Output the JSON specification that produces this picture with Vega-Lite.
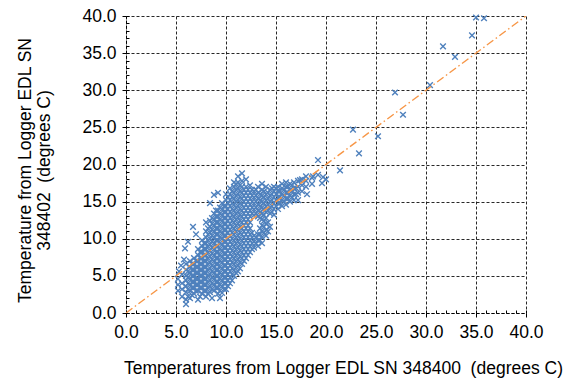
{
"$schema": "https://vega.github.io/schema/vega-lite/v6.json",
"autosize": {"type": "none"},
"width": 400, "height": 297,
"padding": {"left": 126, "top": 16, "right": 48, "bottom": 69},
"background": "white",
"datasets": {
"diag": [{"x": 0, "y": 0}, {"x": 40, "y": 40}],
"pts": [
{"x":35.0,"y":39.8},{"x":35.8,"y":39.7},{"x":34.6,"y":37.4},{"x":31.7,"y":35.9},{"x":32.9,"y":34.5},{"x":30.4,"y":30.7},{"x":26.9,"y":29.7},{"x":27.7,"y":26.7},{"x":22.7,"y":24.7},{"x":25.2,"y":23.8},{"x":23.3,"y":21.5},{"x":19.2,"y":20.6},{"x":21.4,"y":19.2},
{"x":18.1,"y":16.0},{"x":19.6,"y":17.5},{"x":19.7,"y":18.3},{"x":19.2,"y":18.6},{"x":18.7,"y":18.4},{"x":17.4,"y":17.9},{"x":20.0,"y":18.0},
{"x":5.2,"y":3.0},{"x":5.2,"y":3.8},{"x":5.2,"y":4.6},{"x":5.3,"y":5.6},{"x":5.5,"y":6.4},
{"x":5.6,"y":2.2},{"x":5.6,"y":3.2},{"x":5.6,"y":4.0},{"x":5.6,"y":5.2},{"x":5.8,"y":7.2},{"x":5.9,"y":8.7},
{"x":6.0,"y":1.2},{"x":6.0,"y":1.8},{"x":6.0,"y":2.8},{"x":6.0,"y":3.6},{"x":6.0,"y":4.4},{"x":6.0,"y":5.0},{"x":6.0,"y":5.8},{"x":6.0,"y":6.6},
{"x":6.2,"y":9.6},{"x":6.2,"y":2.2},{"x":6.2,"y":3.2},{"x":6.2,"y":4.0},{"x":6.2,"y":4.8},{"x":6.2,"y":5.6},
{"x":6.4,"y":2.0},{"x":6.4,"y":3.0},{"x":6.4,"y":3.8},{"x":6.4,"y":4.6},{"x":6.4,"y":5.4},{"x":6.4,"y":6.2},{"x":6.4,"y":7.0},
{"x":6.6,"y":2.4},{"x":6.6,"y":3.4},{"x":6.6,"y":4.2},{"x":6.6,"y":5.0},{"x":6.6,"y":5.8},{"x":6.6,"y":6.6},
{"x":6.7,"y":11.6},
{"x":6.8,"y":2.6},{"x":6.8,"y":3.4},{"x":6.8,"y":4.2},{"x":6.8,"y":5.0},{"x":6.8,"y":5.8},{"x":6.8,"y":6.6},{"x":6.8,"y":7.4},
{"x":7.0,"y":10.6},{"x":7.0,"y":3.0},{"x":7.0,"y":3.8},{"x":7.0,"y":4.6},{"x":7.0,"y":5.4},{"x":7.0,"y":6.2},{"x":7.0,"y":7.0},
{"x":7.2,"y":1.8},{"x":7.2,"y":3.0},{"x":7.2,"y":3.8},{"x":7.2,"y":4.6},{"x":7.2,"y":5.4},{"x":7.2,"y":6.2},{"x":7.2,"y":7.0},{"x":7.2,"y":7.8},{"x":7.2,"y":8.6},
{"x":7.4,"y":2.2},{"x":7.4,"y":3.4},{"x":7.4,"y":4.2},{"x":7.4,"y":5.0},{"x":7.4,"y":5.8},{"x":7.4,"y":6.6},{"x":7.4,"y":7.4},{"x":7.4,"y":8.2},
{"x":7.6,"y":2.6},{"x":7.6,"y":3.4},{"x":7.6,"y":4.2},{"x":7.6,"y":5.0},{"x":7.6,"y":5.8},{"x":7.6,"y":6.6},{"x":7.6,"y":7.4},{"x":7.6,"y":8.2},{"x":7.6,"y":9.0},{"x":7.6,"y":9.8},
{"x":7.8,"y":3.0},{"x":7.8,"y":3.8},{"x":7.8,"y":4.6},{"x":7.8,"y":5.4},{"x":7.8,"y":6.2},{"x":7.8,"y":7.0},{"x":7.8,"y":7.8},{"x":7.8,"y":8.6},{"x":7.8,"y":9.4},
{"x":8.0,"y":2.2},{"x":8.0,"y":3.0},{"x":8.0,"y":3.8},{"x":8.0,"y":4.6},{"x":8.0,"y":5.4},{"x":8.0,"y":6.2},{"x":8.0,"y":7.0},{"x":8.0,"y":7.8},{"x":8.0,"y":8.6},{"x":8.0,"y":9.4},{"x":8.0,"y":10.2},{"x":8.0,"y":11.0},{"x":8.0,"y":12.2},
{"x":8.2,"y":2.6},{"x":8.2,"y":3.4},{"x":8.2,"y":4.2},{"x":8.2,"y":5.0},{"x":8.2,"y":5.8},{"x":8.2,"y":6.6},{"x":8.2,"y":7.4},{"x":8.2,"y":8.2},{"x":8.2,"y":9.0},{"x":8.2,"y":9.8},{"x":8.2,"y":10.6},{"x":8.2,"y":11.4},
{"x":8.4,"y":2.8},{"x":8.4,"y":3.6},{"x":8.4,"y":4.4},{"x":8.4,"y":5.2},{"x":8.4,"y":6.0},{"x":8.4,"y":6.8},{"x":8.4,"y":7.6},{"x":8.4,"y":8.4},{"x":8.4,"y":9.2},{"x":8.4,"y":10.0},{"x":8.4,"y":10.8},{"x":8.4,"y":11.6},{"x":8.4,"y":12.4},{"x":8.4,"y":14.8},
{"x":8.6,"y":2.0},{"x":8.6,"y":3.2},{"x":8.6,"y":4.0},{"x":8.6,"y":4.8},{"x":8.6,"y":5.6},{"x":8.6,"y":6.4},{"x":8.6,"y":7.2},{"x":8.6,"y":8.0},{"x":8.6,"y":8.8},{"x":8.6,"y":9.6},{"x":8.6,"y":10.4},{"x":8.6,"y":11.2},{"x":8.6,"y":12.0},{"x":8.6,"y":12.8},
{"x":8.8,"y":3.0},{"x":8.8,"y":3.8},{"x":8.8,"y":4.6},{"x":8.8,"y":5.4},{"x":8.8,"y":6.2},{"x":8.8,"y":7.0},{"x":8.8,"y":7.8},{"x":8.8,"y":8.6},{"x":8.8,"y":9.4},{"x":8.8,"y":10.2},{"x":8.8,"y":11.0},{"x":8.8,"y":11.8},{"x":8.8,"y":12.6},{"x":8.8,"y":13.4},{"x":8.8,"y":15.9},
{"x":9.0,"y":3.4},{"x":9.0,"y":4.2},{"x":9.0,"y":5.0},{"x":9.0,"y":5.8},{"x":9.0,"y":6.6},{"x":9.0,"y":7.4},{"x":9.0,"y":8.2},{"x":9.0,"y":9.0},{"x":9.0,"y":9.8},{"x":9.0,"y":10.6},{"x":9.0,"y":11.4},{"x":9.0,"y":12.2},{"x":9.0,"y":13.0},{"x":9.0,"y":13.8},
{"x":9.2,"y":2.6},{"x":9.2,"y":3.4},{"x":9.2,"y":4.2},{"x":9.2,"y":5.0},{"x":9.2,"y":5.8},{"x":9.2,"y":6.6},{"x":9.2,"y":7.4},{"x":9.2,"y":8.2},{"x":9.2,"y":9.0},{"x":9.2,"y":9.8},{"x":9.2,"y":10.6},{"x":9.2,"y":11.4},{"x":9.2,"y":12.2},{"x":9.2,"y":13.0},{"x":9.2,"y":13.8},{"x":9.2,"y":16.2},
{"x":9.4,"y":2.0},{"x":9.4,"y":3.0},{"x":9.4,"y":3.8},{"x":9.4,"y":4.6},{"x":9.4,"y":5.4},{"x":9.4,"y":6.2},{"x":9.4,"y":7.0},{"x":9.4,"y":7.8},{"x":9.4,"y":8.6},{"x":9.4,"y":9.4},{"x":9.4,"y":10.2},{"x":9.4,"y":11.0},{"x":9.4,"y":11.8},{"x":9.4,"y":12.6},{"x":9.4,"y":13.4},{"x":9.4,"y":14.2},
{"x":9.6,"y":2.7},{"x":9.6,"y":3.6},{"x":9.6,"y":4.4},{"x":9.6,"y":5.2},{"x":9.6,"y":6.0},{"x":9.6,"y":6.8},{"x":9.6,"y":7.6},{"x":9.6,"y":8.4},{"x":9.6,"y":9.2},{"x":9.6,"y":10.0},{"x":9.6,"y":10.8},{"x":9.6,"y":11.6},{"x":9.6,"y":12.4},{"x":9.6,"y":13.2},{"x":9.6,"y":14.0},{"x":9.6,"y":14.8},
{"x":9.8,"y":3.2},{"x":9.8,"y":4.0},{"x":9.8,"y":4.8},{"x":9.8,"y":5.6},{"x":9.8,"y":6.4},{"x":9.8,"y":7.2},{"x":9.8,"y":8.0},{"x":9.8,"y":8.8},{"x":9.8,"y":9.6},{"x":9.8,"y":10.4},{"x":9.8,"y":11.2},{"x":9.8,"y":12.0},{"x":9.8,"y":12.8},{"x":9.8,"y":13.6},{"x":9.8,"y":14.4},
{"x":10.0,"y":3.2},{"x":10.0,"y":4.0},{"x":10.0,"y":4.8},{"x":10.0,"y":5.6},{"x":10.0,"y":6.4},{"x":10.0,"y":7.2},{"x":10.0,"y":8.0},{"x":10.0,"y":8.8},{"x":10.0,"y":9.6},{"x":10.0,"y":10.4},{"x":10.0,"y":11.2},{"x":10.0,"y":12.0},{"x":10.0,"y":12.8},{"x":10.0,"y":13.6},{"x":10.0,"y":14.4},{"x":10.0,"y":15.2},{"x":10.0,"y":16.0},
{"x":10.2,"y":3.6},{"x":10.2,"y":4.4},{"x":10.2,"y":5.2},{"x":10.2,"y":6.0},{"x":10.2,"y":6.8},{"x":10.2,"y":7.6},{"x":10.2,"y":8.4},{"x":10.2,"y":9.2},{"x":10.2,"y":10.0},{"x":10.2,"y":10.8},{"x":10.2,"y":11.6},{"x":10.2,"y":12.4},{"x":10.2,"y":13.2},{"x":10.2,"y":14.0},{"x":10.2,"y":14.8},{"x":10.2,"y":15.6},
{"x":10.4,"y":4.0},{"x":10.4,"y":4.8},{"x":10.4,"y":5.6},{"x":10.4,"y":6.4},{"x":10.4,"y":7.2},{"x":10.4,"y":8.0},{"x":10.4,"y":8.8},{"x":10.4,"y":9.6},{"x":10.4,"y":10.4},{"x":10.4,"y":11.2},{"x":10.4,"y":12.0},{"x":10.4,"y":12.8},{"x":10.4,"y":13.6},{"x":10.4,"y":14.4},{"x":10.4,"y":15.2},{"x":10.4,"y":16.0},{"x":10.4,"y":16.8},
{"x":10.6,"y":4.4},{"x":10.6,"y":5.2},{"x":10.6,"y":6.0},{"x":10.6,"y":6.8},{"x":10.6,"y":7.6},{"x":10.6,"y":8.4},{"x":10.6,"y":9.2},{"x":10.6,"y":10.0},{"x":10.6,"y":10.8},{"x":10.6,"y":11.6},{"x":10.6,"y":12.4},{"x":10.6,"y":13.2},{"x":10.6,"y":14.0},{"x":10.6,"y":14.8},{"x":10.6,"y":15.6},{"x":10.6,"y":16.4},
{"x":10.8,"y":5.0},{"x":10.8,"y":5.8},{"x":10.8,"y":6.6},{"x":10.8,"y":7.4},{"x":10.8,"y":8.2},{"x":10.8,"y":9.0},{"x":10.8,"y":9.8},{"x":10.8,"y":10.6},{"x":10.8,"y":11.4},{"x":10.8,"y":12.2},{"x":10.8,"y":13.0},{"x":10.8,"y":13.8},{"x":10.8,"y":14.6},{"x":10.8,"y":15.4},{"x":10.8,"y":16.2},{"x":10.8,"y":17.0},{"x":10.8,"y":17.6},
{"x":11.0,"y":5.4},{"x":11.0,"y":6.2},{"x":11.0,"y":7.0},{"x":11.0,"y":7.8},{"x":11.0,"y":8.6},{"x":11.0,"y":9.4},{"x":11.0,"y":10.2},{"x":11.0,"y":11.0},{"x":11.0,"y":11.8},{"x":11.0,"y":12.6},{"x":11.0,"y":13.4},{"x":11.0,"y":14.2},{"x":11.0,"y":15.0},{"x":11.0,"y":15.8},{"x":11.0,"y":16.6},{"x":11.0,"y":17.4},
{"x":11.2,"y":5.6},{"x":11.2,"y":6.4},{"x":11.2,"y":7.2},{"x":11.2,"y":8.0},{"x":11.2,"y":8.8},{"x":11.2,"y":9.6},{"x":11.2,"y":10.4},{"x":11.2,"y":11.2},{"x":11.2,"y":12.0},{"x":11.2,"y":12.8},{"x":11.2,"y":13.6},{"x":11.2,"y":14.4},{"x":11.2,"y":15.2},{"x":11.2,"y":16.0},{"x":11.2,"y":16.8},{"x":11.2,"y":17.6},{"x":11.2,"y":18.4},
{"x":11.4,"y":6.0},{"x":11.4,"y":6.8},{"x":11.4,"y":7.6},{"x":11.4,"y":8.4},{"x":11.4,"y":9.2},{"x":11.4,"y":10.0},{"x":11.4,"y":10.8},{"x":11.4,"y":11.6},{"x":11.4,"y":12.4},{"x":11.4,"y":13.2},{"x":11.4,"y":14.0},{"x":11.4,"y":14.8},{"x":11.4,"y":15.6},{"x":11.4,"y":16.4},{"x":11.4,"y":17.2},
{"x":11.6,"y":6.6},{"x":11.6,"y":7.4},{"x":11.6,"y":8.2},{"x":11.6,"y":9.0},{"x":11.6,"y":9.8},{"x":11.6,"y":10.6},{"x":11.6,"y":11.4},{"x":11.6,"y":12.2},{"x":11.6,"y":13.0},{"x":11.6,"y":13.8},{"x":11.6,"y":14.6},{"x":11.6,"y":15.4},{"x":11.6,"y":16.2},{"x":11.6,"y":17.0},{"x":11.6,"y":17.8},{"x":11.6,"y":18.8},
{"x":11.8,"y":7.0},{"x":11.8,"y":7.8},{"x":11.8,"y":8.6},{"x":11.8,"y":9.4},{"x":11.8,"y":10.2},{"x":11.8,"y":11.0},{"x":11.8,"y":11.8},{"x":11.8,"y":12.6},{"x":11.8,"y":13.4},{"x":11.8,"y":14.2},{"x":11.8,"y":15.0},{"x":11.8,"y":15.8},{"x":11.8,"y":16.6},
{"x":12.0,"y":7.4},{"x":12.0,"y":8.2},{"x":12.0,"y":9.0},{"x":12.0,"y":9.8},{"x":12.0,"y":10.6},{"x":12.0,"y":11.4},{"x":12.0,"y":12.2},{"x":12.0,"y":13.0},{"x":12.0,"y":13.8},{"x":12.0,"y":14.6},{"x":12.0,"y":15.4},{"x":12.0,"y":16.2},{"x":12.0,"y":17.0},{"x":12.0,"y":18.0},
{"x":12.2,"y":7.8},{"x":12.2,"y":8.6},{"x":12.2,"y":9.4},{"x":12.2,"y":10.2},{"x":12.2,"y":11.0},{"x":12.2,"y":11.8},{"x":12.2,"y":12.6},{"x":12.2,"y":13.4},{"x":12.2,"y":14.2},{"x":12.2,"y":15.0},{"x":12.2,"y":15.8},{"x":12.2,"y":16.6},
{"x":12.4,"y":8.2},{"x":12.4,"y":9.0},{"x":12.4,"y":9.8},{"x":12.4,"y":10.6},{"x":12.4,"y":11.4},{"x":12.4,"y":12.2},{"x":12.4,"y":13.0},{"x":12.4,"y":13.8},{"x":12.4,"y":14.6},{"x":12.4,"y":15.4},{"x":12.4,"y":16.2},{"x":12.4,"y":17.2},
{"x":12.6,"y":8.6},{"x":12.6,"y":9.4},{"x":12.6,"y":10.2},{"x":12.6,"y":10.8},{"x":12.6,"y":13.4},{"x":12.6,"y":14.2},{"x":12.6,"y":15.0},{"x":12.6,"y":15.8},{"x":12.6,"y":16.6},
{"x":12.8,"y":8.8},{"x":12.8,"y":9.6},{"x":12.8,"y":10.4},{"x":12.8,"y":13.2},{"x":12.8,"y":14.0},{"x":12.8,"y":14.8},{"x":12.8,"y":15.6},{"x":12.8,"y":16.4},
{"x":13.0,"y":9.4},{"x":13.0,"y":10.2},{"x":13.0,"y":13.4},{"x":13.0,"y":14.2},{"x":13.0,"y":15.0},{"x":13.0,"y":15.8},{"x":13.0,"y":16.6},
{"x":13.2,"y":9.0},{"x":13.2,"y":9.8},{"x":13.2,"y":10.6},{"x":13.2,"y":13.0},{"x":13.2,"y":13.8},{"x":13.2,"y":14.6},{"x":13.2,"y":15.4},{"x":13.2,"y":16.2},{"x":13.2,"y":17.0},
{"x":13.4,"y":9.8},{"x":13.4,"y":10.6},{"x":13.4,"y":11.4},{"x":13.4,"y":12.8},{"x":13.4,"y":13.6},{"x":13.4,"y":14.4},{"x":13.4,"y":15.2},{"x":13.4,"y":16.0},
{"x":13.6,"y":9.4},{"x":13.6,"y":10.2},{"x":13.6,"y":11.0},{"x":13.6,"y":11.8},{"x":13.6,"y":12.6},{"x":13.6,"y":13.4},{"x":13.6,"y":14.2},{"x":13.6,"y":15.0},{"x":13.6,"y":15.8},{"x":13.6,"y":16.6},{"x":13.6,"y":17.4},
{"x":13.8,"y":10.8},{"x":13.8,"y":11.6},{"x":13.8,"y":12.4},{"x":13.8,"y":13.2},{"x":13.8,"y":14.0},{"x":13.8,"y":14.8},{"x":13.8,"y":15.6},{"x":13.8,"y":16.4},
{"x":14.0,"y":10.4},{"x":14.0,"y":11.2},{"x":14.0,"y":12.0},{"x":14.0,"y":12.8},{"x":14.0,"y":13.6},{"x":14.0,"y":14.4},{"x":14.0,"y":15.2},{"x":14.0,"y":16.0},{"x":14.0,"y":17.0},
{"x":14.2,"y":11.0},{"x":14.2,"y":12.2},{"x":14.2,"y":13.8},{"x":14.2,"y":14.6},{"x":14.2,"y":15.4},{"x":14.2,"y":16.2},
{"x":14.4,"y":11.6},{"x":14.4,"y":13.4},{"x":14.4,"y":14.2},{"x":14.4,"y":15.0},{"x":14.4,"y":15.8},{"x":14.4,"y":16.6},
{"x":14.6,"y":13.6},{"x":14.6,"y":14.4},{"x":14.6,"y":15.2},{"x":14.6,"y":16.0},{"x":14.6,"y":16.8},
{"x":14.8,"y":13.2},{"x":14.8,"y":14.0},{"x":14.8,"y":14.8},{"x":14.8,"y":15.6},{"x":14.8,"y":16.4},{"x":14.8,"y":17.0},
{"x":15.0,"y":14.4},{"x":15.0,"y":15.2},{"x":15.0,"y":16.0},{"x":15.0,"y":16.8},
{"x":15.2,"y":14.0},{"x":15.2,"y":14.8},{"x":15.2,"y":15.6},{"x":15.2,"y":16.4},{"x":15.2,"y":17.0},
{"x":15.4,"y":14.8},{"x":15.4,"y":15.6},{"x":15.4,"y":16.4},
{"x":15.6,"y":14.4},{"x":15.6,"y":15.2},{"x":15.6,"y":16.0},{"x":15.6,"y":16.8},{"x":15.6,"y":17.4},
{"x":15.8,"y":15.0},{"x":15.8,"y":15.8},{"x":15.8,"y":16.6},
{"x":16.0,"y":14.6},{"x":16.0,"y":15.4},{"x":16.0,"y":16.2},{"x":16.0,"y":17.0},{"x":16.0,"y":17.6},
{"x":16.2,"y":15.4},{"x":16.2,"y":16.2},{"x":16.2,"y":17.0},
{"x":16.4,"y":15.0},{"x":16.4,"y":15.8},{"x":16.4,"y":16.6},{"x":16.4,"y":17.4},
{"x":16.6,"y":15.6},{"x":16.6,"y":16.4},{"x":16.6,"y":17.2},
{"x":16.8,"y":15.2},{"x":16.8,"y":16.0},{"x":16.8,"y":16.8},{"x":16.8,"y":17.6},
{"x":17.0,"y":16.0},{"x":17.0,"y":16.8},
{"x":17.2,"y":15.2},{"x":17.2,"y":16.2},{"x":17.2,"y":17.0},{"x":17.2,"y":17.8},
{"x":17.6,"y":16.4},{"x":17.6,"y":17.2},{"x":17.6,"y":18.0},
{"x":18.0,"y":17.0},{"x":18.0,"y":17.8},{"x":18.0,"y":18.4},
{"x":18.6,"y":17.4},{"x":18.6,"y":18.2}
]
},
"layer": [
{
"data": {"name": "pts"},
"mark": {"type": "point", "shape": "M-1,-1L1,1M1,-1L-1,1", "filled": false, "stroke": "#4F81BD", "strokeWidth": 1.4, "size": 32, "opacity": 1},
"encoding": {
"x": {"field": "x", "type": "quantitative", "scale": {"domain": [0, 40], "nice": false},
"axis": {"title": "Temperatures from Logger EDL SN 348400\u00a0 (degrees C)", "values": [0,5,10,15,20,25,30,35,40], "format": ".1f", "orient": "bottom",
"titleX": 217, "titleY": 60, "titleBaseline": "alphabetic", "titleAlign": "center", "titleAnchor": null}},
"y": {"field": "y", "type": "quantitative", "scale": {"domain": [0, 40], "nice": false},
"axis": {"title": ["Temperature from Logger EDL SN", "348402\u00a0 (degrees C)"], "values": [0,5,10,15,20,25,30,35,40], "format": ".1f", "orient": "left",
"titleX": -101, "titleY": 154, "titleBaseline": "middle", "titleAlign": "center", "titleAngle": -90, "titleLineHeight": 19, "titleAnchor": null}}
}
},
{
"data": {"name": "diag"},
"mark": {"type": "line", "color": "#F79646", "strokeDash": [8, 3, 1.5, 3], "strokeWidth": 1.4, "clip": true},
"encoding": {
"x": {"field": "x", "type": "quantitative", "axis": {"values": [0,1,2,3,4,5,6,7,8,9,10,11,12,13,14,15,16,17,18,19,20,21,22,23,24,25,26,27,28,29,30,31,32,33,34,35,36,37,38,39,40], "labels": false, "grid": false, "domain": false, "tickSize": -3, "title": null, "orient": "bottom"}},
"y": {"field": "y", "type": "quantitative", "axis": {"values": [0,1,2,3,4,5,6,7,8,9,10,11,12,13,14,15,16,17,18,19,20,21,22,23,24,25,26,27,28,29,30,31,32,33,34,35,36,37,38,39,40], "labels": false, "grid": false, "domain": false, "tickSize": -3, "title": null, "orient": "left"}}
}
}
],
"resolve": {"axis": {"x": "independent", "y": "independent"}},
"config": {
"font": "Liberation Sans",
"view": {"stroke": null},
"axis": {
"grid": true, "gridColor": "#111", "gridDash": [3, 2], "gridOpacity": 0.9, "gridWidth": 1,
"domainColor": "#000", "domainDash": [3, 2], "domainWidth": 1,
"tickColor": "#000", "tickSize": 4, "tickWidth": 1,
"labelFont": "Liberation Sans", "labelFontSize": 17.5, "labelColor": "#000", "labelPadding": 6,
"labelFlush": false, "labelOverlap": false, "labelBound": false,
"titleFont": "Liberation Sans", "titleFontSize": 17.5, "titleFontWeight": "normal", "titleColor": "#000"
}
}
}
